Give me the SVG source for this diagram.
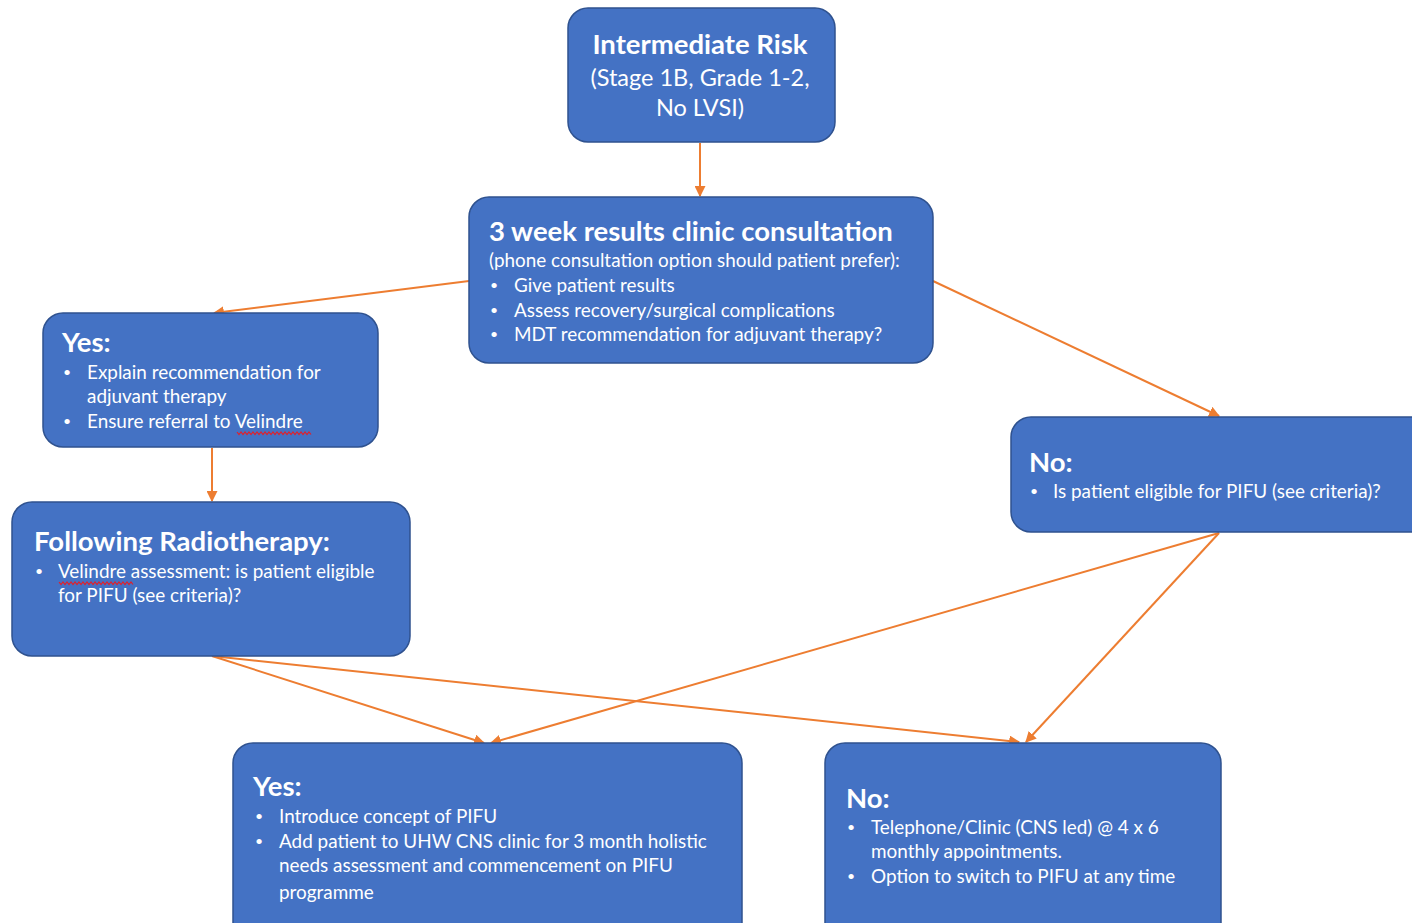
<svg xmlns="http://www.w3.org/2000/svg" width="1412" height="923" viewBox="0 0 1412 923">
<defs>
<style>
.box{fill:#4472C4;stroke:#2F528F;stroke-width:1.5}
text{font-family:Lato,"Open Sans","Liberation Sans",sans-serif;fill:#ffffff}
.h{font-weight:bold;font-size:27.5px}
.b{font-size:18.9px}
.d{font-size:14px}
.c{fill:none;stroke:#ED7D31;stroke-width:2}
.sq{fill:none;stroke:#E0202A;stroke-width:1.2}
</style>
<marker id="ah" viewBox="0 0 10 10" refX="9" refY="5" markerWidth="5.5" markerHeight="5.5" orient="auto" markerUnits="strokeWidth">
<path d="M0,0 L10,5 L0,10 z" fill="#ED7D31"/>
</marker>
</defs>
<rect width="1412" height="923" fill="#ffffff"/>
<g id="connectors">
<path class="c" d="M700,143 L700,196" marker-end="url(#ah)"/>
<path class="c" d="M469,281 L214,313" marker-end="url(#ah)"/>
<path class="c" d="M933,281 L1219,416" marker-end="url(#ah)"/>
<path class="c" d="M212,448 L212,501" marker-end="url(#ah)"/>
<path class="c" d="M212,656 L484,743" marker-end="url(#ah)"/>
<path class="c" d="M212,656 L1019,742" marker-end="url(#ah)"/>
<path class="c" d="M1219,533 L491,743" marker-end="url(#ah)"/>
<path class="c" d="M1219,533 L1026,742" marker-end="url(#ah)"/>
</g>
<g id="n1">
<rect class="box" x="568" y="8" width="267" height="134" rx="20"/>
<text class="h" x="700" y="54" text-anchor="middle">Intermediate Risk</text>
<text x="700" y="86" text-anchor="middle" font-size="23.5">(Stage 1B, Grade 1-2,</text>
<text x="700" y="116" text-anchor="middle" font-size="23.5">No LVSI)</text>
</g>
<g id="n2">
<rect class="box" x="469" y="197" width="464" height="166" rx="20"/>
<text class="h" x="489" y="241">3 week results clinic consultation</text>
<text class="b" x="489" y="267">(phone consultation option should patient prefer):</text>
<text class="d" x="490" y="290">•</text><text class="b" x="514" y="292">Give patient results</text>
<text class="d" x="490" y="315">•</text><text class="b" x="514" y="317">Assess recovery/surgical complications</text>
<text class="d" x="490" y="339">•</text><text class="b" x="514" y="341">MDT recommendation for adjuvant therapy?</text>
</g>
<g id="n3">
<rect class="box" x="43" y="313" width="335" height="134" rx="20"/>
<text class="h" x="62" y="352">Yes:</text>
<text class="d" x="63" y="377">•</text><text class="b" x="87" y="379">Explain recommendation for</text>
<text class="b" x="87" y="403">adjuvant therapy</text>
<text class="d" x="63" y="426">•</text><text class="b" x="87" y="428">Ensure referral to Velindre</text>
<path class="sq" d="M237,432 l2,2.5 l2,-2.5 l2,2.5 l2,-2.5 l2,2.5 l2,-2.5 l2,2.5 l2,-2.5 l2,2.5 l2,-2.5 l2,2.5 l2,-2.5 l2,2.5 l2,-2.5 l2,2.5 l2,-2.5 l2,2.5 l2,-2.5 l2,2.5 l2,-2.5 l2,2.5 l2,-2.5 l2,2.5 l2,-2.5 l2,2.5 l2,-2.5 l2,2.5 l2,-2.5 l2,2.5 l2,-2.5 l2,2.5 l2,-2.5 l2,2.5 l2,-2.5 l2,2.5 l2,-2.5 l2,2.5"/>
</g>
<g id="n4">
<rect class="box" x="1011" y="417" width="420" height="115" rx="20"/>
<text class="h" x="1029" y="472">No:</text>
<text class="d" x="1030" y="496">•</text><text class="b" x="1053" y="498">Is patient eligible for PIFU (see criteria)?</text>
</g>
<g id="n5">
<rect class="box" x="12" y="502" width="398" height="154" rx="20"/>
<text class="h" x="34" y="551">Following Radiotherapy:</text>
<text class="d" x="35" y="576">•</text><text class="b" x="58" y="578">Velindre assessment: is patient eligible</text>
<text class="b" x="58" y="602">for PIFU (see criteria)?</text>
<path class="sq" d="M59,582 l2,2.5 l2,-2.5 l2,2.5 l2,-2.5 l2,2.5 l2,-2.5 l2,2.5 l2,-2.5 l2,2.5 l2,-2.5 l2,2.5 l2,-2.5 l2,2.5 l2,-2.5 l2,2.5 l2,-2.5 l2,2.5 l2,-2.5 l2,2.5 l2,-2.5 l2,2.5 l2,-2.5 l2,2.5 l2,-2.5 l2,2.5 l2,-2.5 l2,2.5 l2,-2.5 l2,2.5 l2,-2.5 l2,2.5 l2,-2.5 l2,2.5 l2,-2.5 l2,2.5 l2,-2.5 l2,2.5"/>
</g>
<g id="n6">
<rect class="box" x="233" y="743" width="509" height="200" rx="20"/>
<text class="h" x="253" y="796">Yes:</text>
<text class="d" x="255" y="821">•</text><text class="b" x="279" y="823">Introduce concept of PIFU</text>
<text class="d" x="255" y="846">•</text><text class="b" x="279" y="848">Add patient to UHW CNS clinic for 3 month holistic</text>
<text class="b" x="279" y="872">needs assessment and commencement on PIFU</text>
<text class="b" x="279" y="899">programme</text>
</g>
<g id="n7">
<rect class="box" x="825" y="743" width="396" height="200" rx="20"/>
<text class="h" x="846" y="808">No:</text>
<text class="d" x="847" y="832">•</text><text class="b" x="871" y="834">Telephone/Clinic (CNS led) @ 4 x 6</text>
<text class="b" x="871" y="858">monthly appointments.</text>
<text class="d" x="847" y="881">•</text><text class="b" x="871" y="883">Option to switch to PIFU at any time</text>
</g>
</svg>
